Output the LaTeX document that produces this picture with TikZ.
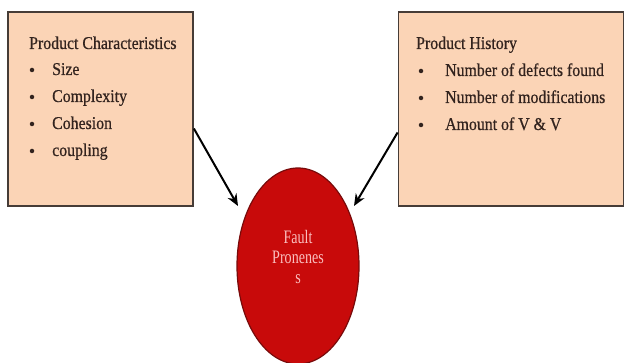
\documentclass[tikz,border=0pt]{standalone}
\usepackage{fontspec}
\setmainfont[FakeStretch=0.88,FakeBold=0.6]{Liberation Serif}
\newfontfamily\narrowserif[FakeStretch=0.74]{Liberation Serif}
\usetikzlibrary{arrows.meta,shapes.geometric,calc}
\definecolor{peach}{RGB}{251,212,182}
\definecolor{boxline}{RGB}{70,60,55}
\definecolor{faultred}{RGB}{200,10,10}
\definecolor{faultline}{RGB}{120,10,10}
\definecolor{faulttext}{RGB}{250,190,190}
\definecolor{txt}{RGB}{50,35,30}
\tikzset{
  infobox/.style={draw=boxline, line width=1.8pt, fill=peach, minimum width=#1, minimum height=194pt, inner sep=0pt},
  bodytext/.style={anchor=base west, inner sep=0pt, font=\fontsize{18}{20}\selectfont, text=txt},
  bullet/.style={circle, fill=txt, inner sep=0pt, minimum size=4.5pt},
  faultnode/.style={ellipse, draw=faultline, line width=1.2pt, fill=faultred, minimum width=122pt, minimum height=196pt, inner sep=0pt},
  arr/.style={draw=black, line width=2pt, -{Stealth[length=12pt,width=10pt]}}
}
\begin{document}
\begin{tikzpicture}[x=1pt,y=-1pt]
\useasboundingbox (0,0) rectangle (625,363);
\clip (0,0) rectangle (625,363);
% boxes
\node[infobox=185pt] (lbox) at (100.5,109) {};
\node[infobox=225pt] (rbox) at (511,109) {};
% fault ellipse
\node[faultnode] (fp) at (298,266) {};
\node[align=center, font=\narrowserif\fontsize{19}{20}\selectfont, text=faulttext] (fptext) at (298,257) {Fault\\Pronenes\\s};
% left text
\node[bodytext] (lt) at (29,49) {Product Characteristics};
\node[bullet] (lb1) at (32,70) {};
\node[bullet] (lb2) at (32,97) {};
\node[bullet] (lb3) at (32,124) {};
\node[bullet] (lb4) at (32,151) {};
\node[bodytext] (l1) at (52,75) {Size};
\node[bodytext] (l2) at (52,102) {Complexity};
\node[bodytext] (l3) at (52,129) {Cohesion};
\node[bodytext] (l4) at (52,156) {coupling};
% right text
\node[bodytext] (rt) at (416,49) {Product History};
\node[bullet] (rb1) at (421,71) {};
\node[bullet] (rb2) at (421,98) {};
\node[bullet] (rb3) at (421,125) {};
\node[bodytext] (r1) at (445,76) {Number of defects found};
\node[bodytext] (r2) at (445,103) {Number of modifications};
\node[bodytext] (r3) at (445,130) {Amount of V \& V};
% arrows
\coordinate (la) at (238,206);
\coordinate (ra) at (354,206);
\draw[arr] ($(lbox.north east)!0.6!(lbox.south east)$) -- (la);
\draw[arr] ($(rbox.north west)!0.62!(rbox.south west)$) -- (ra);
\end{tikzpicture}
\end{document}
